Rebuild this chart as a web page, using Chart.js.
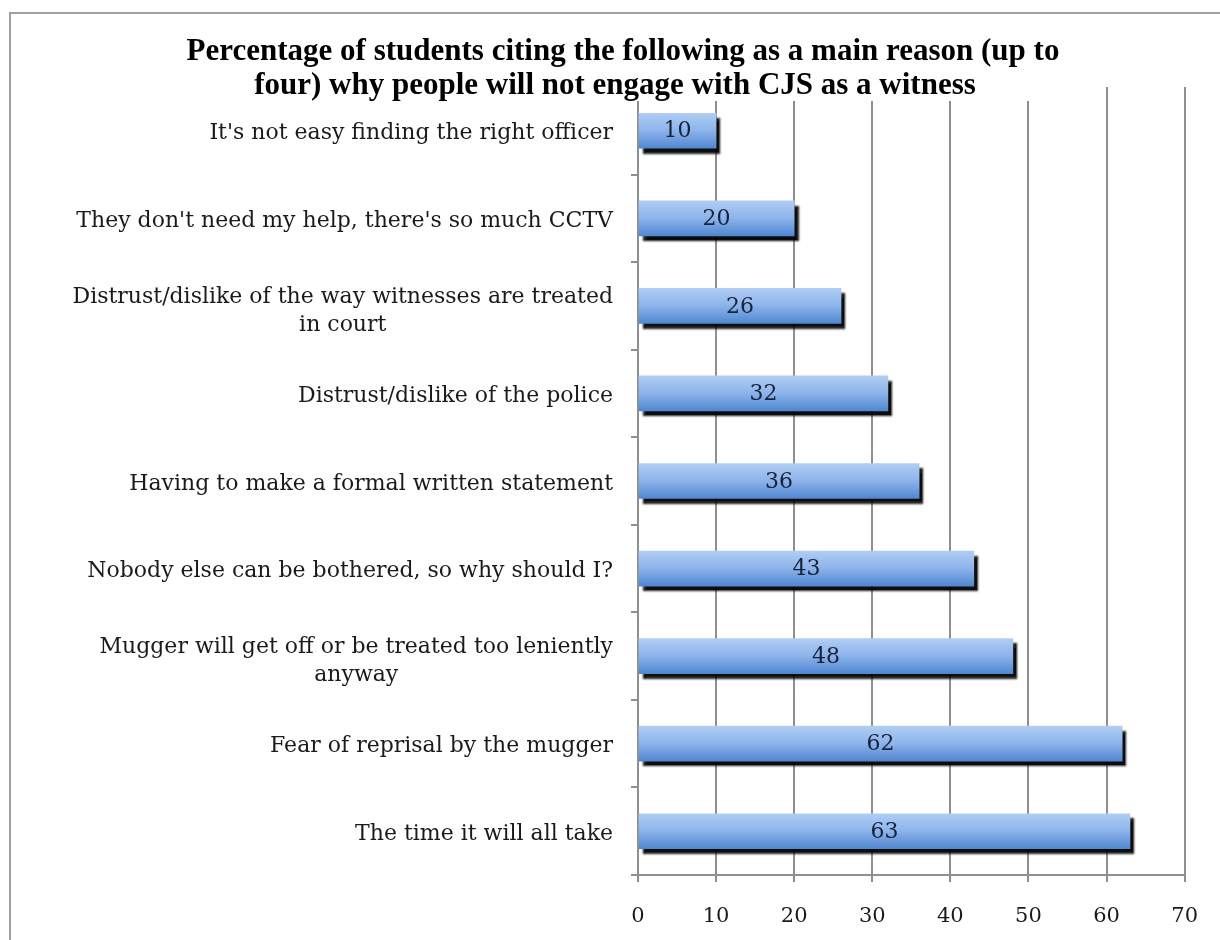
<!DOCTYPE html>
<html>
<head>
<meta charset="utf-8">
<script src="https://cdn.jsdelivr.net/npm/chart.js@4/dist/chart.umd.min.js"></script>
<style>
  body { margin: 0; background: #fff; }
  #wrap { position: relative; width: 1220px; height: 940px; overflow: hidden; }
  #frame { position: absolute; left: 9px; top: 12px; width: 1230px; height: 950px; border: 2px solid #a0a0a0; box-sizing: border-box; }
  canvas { position: absolute; left: 0; top: 0; }
</style>
</head>
<body>
<div id="wrap">
  <div id="frame"></div>
  <canvas id="evoChart" width="1220" height="940"></canvas>
</div>
<script>
// Données
const titleLines = [
    "Percentage of students citing the following as a main reason (up to",
    "four) why people will not engage with CJS as a witness"
];
const reasons = [
    "It's not easy finding the right officer",
    "They don't need my help, there's so much CCTV",
    ["Distrust/dislike of the way witnesses are treated", "in court"],
    "Distrust/dislike of the police",
    "Having to make a formal written statement",
    "Nobody else can be bothered, so why should I?",
    ["Mugger will get off or be treated too leniently", "anyway"],
    "Fear of reprisal by the mugger",
    "The time it will all take"
];
const percentages = [10, 20, 26, 32, 36, 43, 48, 62, 63];
const xTicks = [0, 10, 20, 30, 40, 50, 60, 70];

const serif = "'DejaVu Serif', serif";
const BAR_H = 35;

// dégradé bleu pour chaque barre
function barGradient(context) {
    const chart = context.chart;
    const y = chart.scales.y;
    if (!chart.chartArea || !y) return "#7aa6e3";
    const c = y.getPixelForValue(context.dataIndex);
    const g = chart.ctx.createLinearGradient(0, c - BAR_H / 2, 0, c + BAR_H / 2);
    g.addColorStop(0, "#b0cdf5");
    g.addColorStop(0.5, "#8cb3ea");
    g.addColorStop(1, "#5087d2");
    return g;
}

const shadowPlugin = {
    id: "barShadow",
    beforeDatasetsDraw(chart) {
        const ctx = chart.ctx;
        ctx.save();
        ctx.shadowColor = "rgba(0,0,0,0.95)";
        ctx.shadowOffsetX = 4;
        ctx.shadowOffsetY = 5;
        ctx.shadowBlur = 2;
    },
    afterDatasetsDraw(chart) {
        chart.ctx.restore();
    }
};

const labelsPlugin = {
    id: "labelsAndTitle",
    afterDraw(chart) {
        const ctx = chart.ctx;
        const y = chart.scales.y;
        const meta = chart.getDatasetMeta(0);

        // valeurs au centre des barres
        ctx.save();
        ctx.font = "22px " + serif;
        ctx.fillStyle = "#17223b";
        ctx.textAlign = "center";
        ctx.textBaseline = "middle";
        meta.data.forEach((bar, i) => {
            const p = bar.getProps(["x", "y", "base"], true);
            ctx.fillText(String(percentages[i]), (p.x + p.base) / 2, p.y + 1);
        });
        ctx.restore();

        // libellés des catégories (bloc aligné à droite, lignes centrées)
        ctx.save();
        ctx.font = "22px " + serif;
        ctx.fillStyle = "#1a1a1a";
        ctx.textBaseline = "middle";
        ctx.textAlign = "center";
        const right = chart.chartArea.left - 25;
        const lh = 28;
        reasons.forEach((lab, i) => {
            const lines = Array.isArray(lab) ? lab : [lab];
            const w = Math.max(...lines.map(l => ctx.measureText(l).width));
            const cx = right - w / 2;
            const cy = y.getPixelForTick(i) + (lines.length > 1 ? 5 : 3);
            lines.forEach((l, k) => {
                ctx.fillText(l, cx, cy + (k - (lines.length - 1) / 2) * lh);
            });
        });
        ctx.restore();

        // titre sur fond blanc
        ctx.save();
        ctx.fillStyle = "#fff";
        ctx.fillRect(170, 30, 910, 71);
        ctx.font = "bold 31px 'Liberation Serif', serif";
        ctx.fillStyle = "#000";
        ctx.textAlign = "center";
        ctx.textBaseline = "alphabetic";
        ctx.fillText(titleLines[0], 623, 60);
        ctx.fillText(titleLines[1], 615, 94);
        ctx.restore();
    }
};

const ctx = document.getElementById("evoChart").getContext("2d");
new Chart(ctx, {
    type: "bar",
    data: {
        labels: reasons,
        datasets: [{
            label: "Percentage",
            data: percentages,
            backgroundColor: barGradient,
            borderWidth: 0,
            barThickness: BAR_H
        }]
    },
    options: {
        indexAxis: "y",
        responsive: false,
        animation: false,
        devicePixelRatio: 1,
        layout: { padding: { left: 10, right: 29, top: 87, bottom: 0 } },
        plugins: {
            legend: { display: false },
            title: { display: false },
            tooltip: { enabled: false }
        },
        scales: {
            x: {
                min: 0,
                max: 70,
                afterBuildTicks(scale) { scale.ticks = xTicks.map(v => ({ value: v })); },
                afterFit(scale) { scale.height = 65; },
                grid: { color: "#8f8f8f", lineWidth: 2, tickLength: 7, tickColor: "#8f8f8f" },
                border: { color: "#8f8f8f", width: 2 },
                ticks: {
                    font: { family: serif, size: 21 },
                    color: "#1a1a1a",
                    padding: 22
                }
            },
            y: {
                afterFit(scale) { scale.width = 628; },
                grid: { offset: true, drawOnChartArea: false, tickLength: 7, color: "#8f8f8f", lineWidth: 2 },
                border: { color: "#8f8f8f", width: 2 },
                ticks: { display: false }
            }
        }
    },
    plugins: [shadowPlugin, labelsPlugin]
});
</script>
</body>
</html>
